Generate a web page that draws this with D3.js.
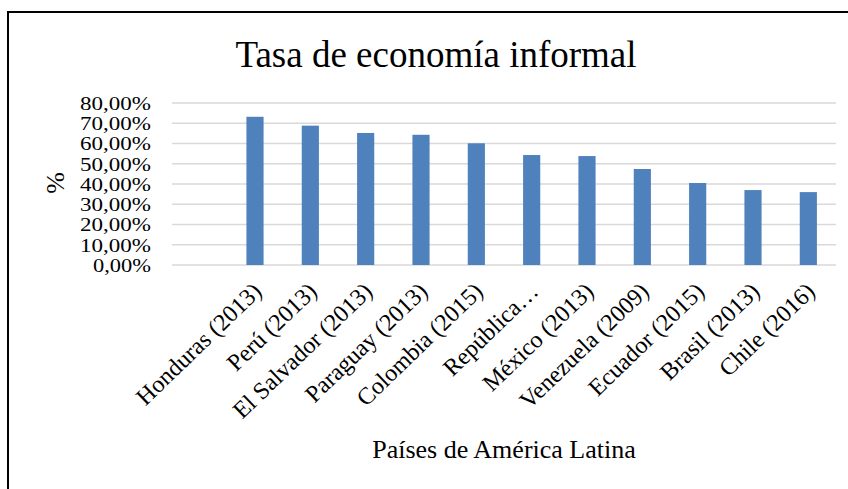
<!DOCTYPE html>
<html>
<head>
<meta charset="utf-8">
<script src="https://cdn.jsdelivr.net/npm/d3@7"></script>
<style>
  html, body { margin: 0; padding: 0; background: #fff; }
  svg { display: block; }
  text { font-family: "Liberation Serif", "Times New Roman", serif; fill: #000; }
</style>
</head>
<body>
<svg id="chart" width="848" height="489"></svg>
<script>
// Informal economy rate by Latin American country (year of the estimate)
const categories = ["", "Honduras (2013)", "Perú (2013)", "El Salvador (2013)", "Paraguay (2013)",
  "Colombia (2015)", "República…", "México (2013)", "Venezuela (2009)", "Ecuador (2015)",
  "Brasil (2013)", "Chile (2016)"];
const values = [null, 73.2, 68.8, 65.2, 64.3, 60.1, 54.3, 53.8, 47.4, 40.5, 37.0, 36.0];
const yTicks = [0, 10, 20, 30, 40, 50, 60, 70, 80];

const title = "Tasa de economía informal";
const xTitle = "Países de América Latina";
const yTitle = "%";

const svg = d3.select("#chart");
const W = 848, H = 489;
const plot = { left: 172, right: 836, top: 103, bottom: 265 };

// chart frame: top and left edges
svg.append("path")
  .attr("d", `M8,${H} L8,12 L${W},12`)
  .attr("fill", "none")
  .attr("stroke", "#000")
  .attr("stroke-width", 2);

const x = d3.scaleBand()
  .domain(categories.map((c, i) => i))
  .range([plot.left, plot.right])
  .paddingInner(0.69)
  .paddingOuter(0.345);

const y = d3.scaleLinear().domain([0, 80]).range([plot.bottom, plot.top]);

const fmt = v => d3.format(".2f")(v).replace(".", ",") + "%";

// horizontal gridlines
svg.append("g")
  .selectAll("line")
  .data(yTicks)
  .join("line")
  .attr("x1", plot.left).attr("x2", plot.right)
  .attr("y1", d => y(d)).attr("y2", d => y(d))
  .attr("stroke", "#d9d9d9")
  .attr("stroke-width", 1.5);

// y axis labels: tight rows, so glyphs are widened rather than enlarged
const yAxis = d3.axisLeft(y).tickValues(yTicks).tickFormat(fmt).tickSize(0).tickPadding(0);
const gy = svg.append("g").attr("transform", "translate(151,0)").call(yAxis);
gy.select(".domain").remove();
gy.selectAll("text")
  .attr("font-family", "Liberation Serif")
  .attr("font-size", 18)
  .attr("dy", "0.36em")
  .attr("textLength", d => (d === 0 ? 58 : 71))
  .attr("lengthAdjust", "spacingAndGlyphs");

// bars
svg.append("g")
  .selectAll("rect")
  .data(values.map((v, i) => ({ v, i })).filter(d => d.v != null))
  .join("rect")
  .attr("x", d => x(d.i))
  .attr("width", x.bandwidth())
  .attr("y", d => y(d.v))
  .attr("height", d => y(0) - y(d.v))
  .attr("fill", "#4f81bd");

// x axis labels, rotated
const xAxis = d3.axisBottom(x).tickFormat(i => categories[i]).tickSize(0).tickPadding(0);
const gx = svg.append("g").attr("transform", `translate(0,${plot.bottom})`).call(xAxis);
gx.select(".domain").remove();
gx.selectAll("text")
  .attr("font-family", "Liberation Serif")
  .attr("font-size", 24)
  .attr("text-anchor", "end")
  .attr("dy", null)
  .attr("y", 0)
  .attr("transform", "translate(8,28) rotate(-44)");

// titles
svg.append("text")
  .attr("x", 436).attr("y", 67)
  .attr("text-anchor", "middle")
  .attr("font-size", 37)
  .text(title);

svg.append("text")
  .attr("x", 504).attr("y", 458)
  .attr("text-anchor", "middle")
  .attr("font-size", 26)
  .text(xTitle);

svg.append("text")
  .attr("transform", "translate(64,183) rotate(-90)")
  .attr("text-anchor", "middle")
  .attr("font-size", 26)
  .text(yTitle);
</script>
</body>
</html>
